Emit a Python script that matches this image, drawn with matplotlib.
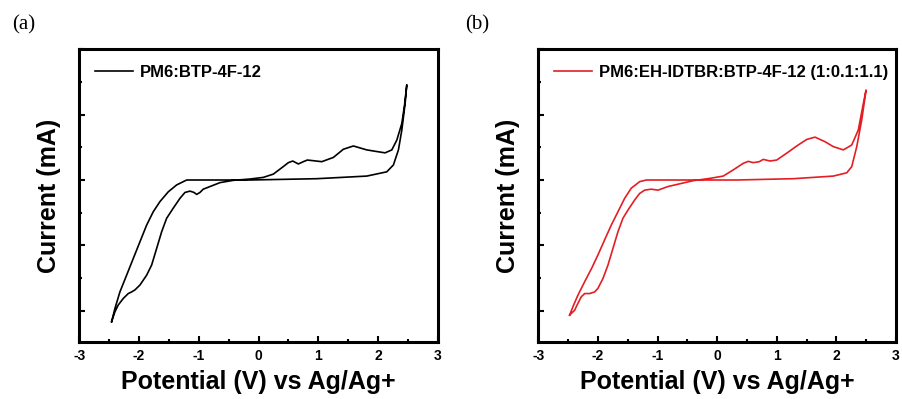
import matplotlib
matplotlib.use("Agg")
import matplotlib.pyplot as plt
from matplotlib.ticker import MultipleLocator, NullFormatter

# (a) PM6:BTP-4F-12, y in arbitrary units
a_fwd_x = [-2.459, -2.404, -2.320, -2.208, -2.097, -1.985, -1.873, -1.762, -1.650,
           -1.510, -1.370, -1.203, -0.812, -0.142, 0.975, 1.812, 2.147, 2.258,
           2.342, 2.399, 2.454, 2.482]
a_fwd_y = [-4.33, -3.93, -3.42, -2.91, -2.40, -1.89, -1.38, -0.97, -0.66,
           -0.36, -0.15, 0.0, 0.0, 0.0, 0.04, 0.12, 0.25, 0.46,
           0.92, 1.53, 2.34, 2.91]
a_rev_x = [2.482, 2.445, 2.399, 2.315, 2.231, 2.119, 1.980, 1.812, 1.588, 1.420,
           1.253, 1.059, 0.918, 0.817, 0.750, 0.667, 0.573, 0.499, 0.415, 0.248,
           0.080, -0.142, -0.420, -0.645, -0.812, -0.925, -0.980, -1.035, -1.080,
           -1.147, -1.231, -1.315, -1.427, -1.538, -1.621, -1.705, -1.789, -1.873,
           -1.985, -2.069, -2.124, -2.180, -2.264, -2.348, -2.404, -2.459]
a_rev_y = [2.91, 2.30, 1.73, 1.22, 0.92, 0.83, 0.87, 0.92, 1.04, 0.94,
           0.69, 0.56, 0.59, 0.61, 0.56, 0.49, 0.58, 0.53, 0.41, 0.18,
           0.08, 0.03, -0.01, -0.08, -0.20, -0.28, -0.38, -0.44, -0.38,
           -0.34, -0.38, -0.56, -0.86, -1.17, -1.58, -2.09, -2.60, -2.91,
           -3.21, -3.36, -3.42, -3.47, -3.62, -3.82, -4.03, -4.33]

# (b) PM6:EH-IDTBR:BTP-4F-12 (1:0.1:1.1)
b_fwd_x = [-2.475, -2.419, -2.336, -2.223, -2.106, -2.000, -1.888, -1.777, -1.664,
           -1.552, -1.441, -1.300, -1.189, -0.826, -0.121, 0.327, 1.277, 1.948,
           2.173, 2.257, 2.341, 2.424, 2.497]
b_fwd_y = [-4.13, -3.87, -3.52, -3.11, -2.70, -2.29, -1.83, -1.38, -0.97,
           -0.56, -0.25, -0.05, 0.0, 0.0, 0.0, 0.0, 0.04, 0.12,
           0.22, 0.41, 1.02, 1.83, 2.75]
b_rev_x = [2.497, 2.441, 2.367, 2.257, 2.116, 1.948, 1.809, 1.641, 1.502, 1.334,
           1.166, 0.998, 0.886, 0.773, 0.706, 0.606, 0.522, 0.438, 0.270, 0.102,
           -0.121, -0.400, -0.708, -0.826, -0.993, -1.106, -1.217, -1.300, -1.384,
           -1.497, -1.581, -1.664, -1.748, -1.832, -1.916, -2.000, -2.055, -2.139,
           -2.223, -2.280, -2.336, -2.391, -2.448, -2.475]
b_rev_y = [2.75, 2.24, 1.53, 1.07, 0.92, 1.02, 1.17, 1.31, 1.24, 1.04,
           0.82, 0.61, 0.58, 0.63, 0.56, 0.53, 0.57, 0.51, 0.31, 0.12,
           0.05, -0.02, -0.15, -0.20, -0.31, -0.28, -0.31, -0.41, -0.61,
           -0.92, -1.17, -1.58, -2.09, -2.60, -3.01, -3.31, -3.42, -3.47,
           -3.47, -3.57, -3.77, -3.98, -4.08, -4.13]

x_ticks = [-3, -2, -1, 0, 1, 2, 3]
x_ticklabels = ["-3", "-2", "-1", "0", "1", "2", "3"]

plt.rcParams["font.family"] = ["Liberation Sans", "DejaVu Sans"]

fig = plt.figure(figsize=(9.02, 3.99), dpi=100)
ax_a = fig.add_axes([0.0879, 0.1429, 0.3974, 0.734])
ax_b = fig.add_axes([0.5968, 0.1429, 0.3966, 0.734])


def style_axes(ax):
    ax.set_xlim(-3, 3)
    ax.set_ylim(-4.95, 4.0)
    ax.set_xticks(x_ticks)
    ax.set_xticklabels(x_ticklabels, fontsize=10, fontweight="bold")
    ax.xaxis.set_minor_locator(MultipleLocator(0.5))
    ax.yaxis.set_major_locator(MultipleLocator(2))
    ax.yaxis.set_minor_locator(MultipleLocator(1))
    ax.yaxis.set_major_formatter(NullFormatter())
    ax.tick_params(which="both", direction="in", width=1.5)
    ax.tick_params(which="major", length=4, pad=5)
    ax.tick_params(which="minor", length=2.5)
    for sp in ax.spines.values():
        sp.set_linewidth(2.2)
    ax.set_xlabel("Potential (V) vs Ag/Ag+", fontsize=18, fontweight="bold", labelpad=5)
    ax.set_ylabel("Current (mA)", fontsize=18, fontweight="bold", labelpad=8)


def add_legend(ax):
    ax.legend(loc="upper left", frameon=False, handlelength=2.3, handletextpad=0.4,
              borderaxespad=0.55, prop={"weight": "bold", "size": 12})


# panel (a)
ax_a.plot(a_fwd_x + a_rev_x, a_fwd_y + a_rev_y, color="black", lw=1.2,
          solid_joinstyle="round", label="PM6:BTP-4F-12")
style_axes(ax_a)
add_legend(ax_a)

# panel (b)
ax_b.plot(b_fwd_x + b_rev_x, b_fwd_y + b_rev_y, color="#e31e24", lw=1.2,
          solid_joinstyle="round", label="PM6:EH-IDTBR:BTP-4F-12 (1:0.1:1.1)")
style_axes(ax_b)
add_legend(ax_b)

fig.text(0.013, 0.937, "(a)", fontsize=15, family="Liberation Serif", va="center")
fig.text(0.5155, 0.937, "(b)", fontsize=15, family="Liberation Serif", va="center")

fig.savefig("out.png", dpi=100)
